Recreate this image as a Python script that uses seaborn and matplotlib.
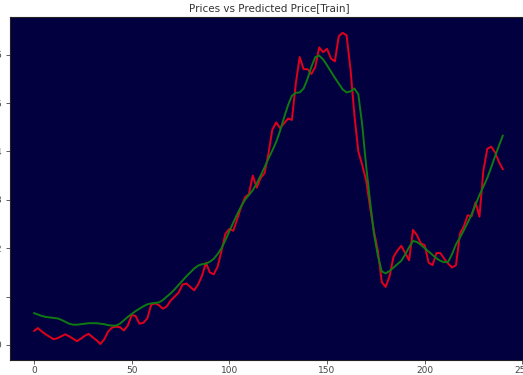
import numpy as np
import pandas as pd
import matplotlib
matplotlib.use("Agg")
import matplotlib.pyplot as plt
import seaborn as sns

# Sample index (every second trading day of the training window)
day = list(range(0, 241, 2))

# Actual closing prices
price = [
    0.29, 0.35, 0.28, 0.22, 0.17, 0.12, 0.14, 0.18, 0.22, 0.18,
    0.13, 0.08, 0.13, 0.19, 0.23, 0.16, 0.10, 0.02, 0.12, 0.28,
    0.36, 0.38, 0.37, 0.30, 0.40, 0.62, 0.60, 0.44, 0.46, 0.55,
    0.83, 0.86, 0.82, 0.75, 0.80, 0.92, 1.00, 1.08, 1.25, 1.27,
    1.20, 1.13, 1.25, 1.43, 1.70, 1.50, 1.46, 1.62, 1.95, 2.30,
    2.40, 2.36, 2.60, 2.85, 3.05, 3.12, 3.50, 3.25, 3.45, 3.55,
    3.95, 4.45, 4.60, 4.48, 4.58, 4.68, 4.65, 5.40, 5.95, 5.70,
    5.70, 5.60, 5.75, 6.15, 6.05, 6.12, 5.92, 5.86, 6.38, 6.45,
    6.40, 5.70, 4.75, 4.00, 3.72, 3.40, 2.85, 2.35, 1.95, 1.30,
    1.20, 1.42, 1.82, 1.95, 2.05, 1.90, 1.75, 2.38, 2.27, 2.10,
    2.06, 1.70, 1.65, 1.90, 1.90, 1.78, 1.68, 1.60, 1.65, 2.30,
    2.45, 2.68, 2.66, 2.95, 2.65, 3.60, 4.05, 4.10, 3.98, 3.78,
    3.63,
]

# Model prediction on the training window
predicted = [
    0.66, 0.63, 0.60, 0.58, 0.57, 0.56, 0.55, 0.52, 0.48, 0.44,
    0.42, 0.42, 0.43, 0.44, 0.45, 0.45, 0.45, 0.44, 0.43, 0.41,
    0.40, 0.40, 0.44, 0.51, 0.58, 0.64, 0.70, 0.75, 0.80, 0.84,
    0.86, 0.87, 0.88, 0.93, 1.00, 1.07, 1.15, 1.24, 1.33, 1.42,
    1.50, 1.58, 1.64, 1.67, 1.68, 1.72, 1.78, 1.88, 2.00, 2.17,
    2.35, 2.53, 2.70, 2.86, 3.00, 3.10, 3.20, 3.34, 3.50, 3.67,
    3.85, 4.02, 4.20, 4.43, 4.70, 4.95, 5.15, 5.21, 5.22, 5.30,
    5.50, 5.75, 5.95, 5.98, 5.90, 5.78, 5.65, 5.52, 5.40, 5.28,
    5.22, 5.24, 5.30, 5.18, 4.55, 3.70, 2.98, 2.30, 1.85, 1.52,
    1.48, 1.53, 1.60, 1.67, 1.74, 1.87, 2.02, 2.15, 2.13, 2.07,
    2.00, 1.93, 1.86, 1.79, 1.74, 1.71, 1.72, 1.88, 2.08, 2.22,
    2.37, 2.53, 2.70, 2.90, 3.10, 3.27, 3.45, 3.67, 3.90, 4.12,
    4.33,
]

x_ticks = [0, 50, 100, 150, 200, 250]
y_ticks = [0, 1, 2, 3, 4, 5, 6]

df = pd.DataFrame({"day": day, "price": price, "predicted": predicted})

sns.set_style("ticks")
plt.rcParams["font.family"] = ["DejaVu Sans"]

fig = plt.figure(figsize=(5.23, 3.75), dpi=100)
ax = fig.add_axes([0.019, 0.040, 0.990, 0.915])
ax.set_facecolor("#03003f")

sns.lineplot(data=df, x="day", y="price", ax=ax, color="#e0001b", linewidth=1.4)
sns.lineplot(data=df, x="day", y="predicted", ax=ax, color="#0f7a12", linewidth=1.4)

ax.set_xlim(-12.3, 252.7)
ax.set_ylim(-0.31, 6.78)
ax.set_xticks(x_ticks)
ax.set_yticks(y_ticks)
ax.set_xlabel("")
ax.set_ylabel("")
ax.tick_params(labelsize=6.5, colors="#444444", length=3, width=0.6)
ax.tick_params(axis="x", pad=1.5)
for s in ax.spines.values():
    s.set_color("#222222")
    s.set_linewidth(0.8)
ax.set_title("Prices vs Predicted Price[Train]", fontsize=7.5, color="#333333", pad=4)

fig.savefig("out.png", dpi=100)
